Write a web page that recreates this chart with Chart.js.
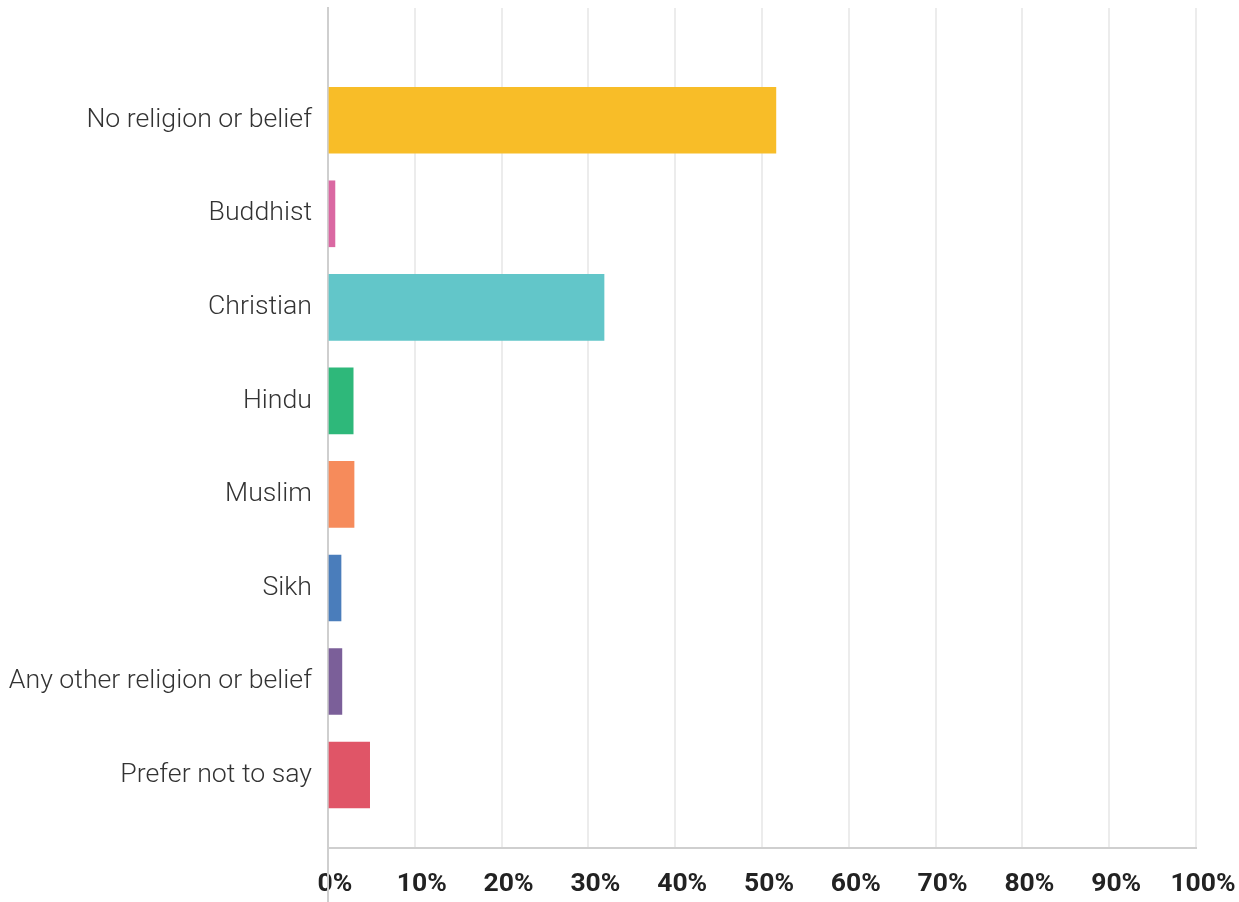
<!DOCTYPE html>
<html>
<head>
<meta charset="utf-8">
<script src="https://cdn.jsdelivr.net/npm/chart.js@4/dist/chart.umd.min.js"></script>
<style>
  html, body { margin: 0; padding: 0; background: #fff; }
  #wrap { width: 1239px; height: 902px; }
</style>
</head>
<body>
<div id="wrap"><canvas id="religionChart" width="1239" height="902"></canvas></div>
<script>
// Religion or belief breakdown (percent of respondents)
const categories = [
    'No religion or belief',
    'Buddhist',
    'Christian',
    'Hindu',
    'Muslim',
    'Sikh',
    'Any other religion or belief',
    'Prefer not to say'
];
const percentages = [51.6, 0.8, 31.8, 2.9, 3.0, 1.5, 1.6, 4.8];
const barColors = ['#f8bd28', '#da68a2', '#62c6c9', '#2eb87a', '#f68b5b', '#4a7dbb', '#7b5f99', '#e05567'];
const xTicks = [0, 10, 20, 30, 40, 50, 60, 70, 80, 90, 100];

const axisColor = '#cfcfcf';

// draws the left axis line down past the tick labels
const axisTail = {
    id: 'axisTail',
    afterDraw(chart) {
        const { ctx, chartArea } = chart;
        ctx.save();
        ctx.strokeStyle = axisColor;
        ctx.lineWidth = 2;
        ctx.beginPath();
        ctx.moveTo(chartArea.left, chartArea.bottom);
        ctx.lineTo(chartArea.left, chart.height);
        ctx.stroke();
        ctx.restore();
    }
};

const ctx = document.getElementById('religionChart').getContext('2d');
new Chart(ctx, {
    type: 'bar',
    data: {
        datasets: [{
            data: percentages.map((v, i) => ({ x: v, y: i })),
            backgroundColor: barColors,
            borderWidth: 0,
            barThickness: 66
        }]
    },
    options: {
        indexAxis: 'y',
        responsive: false,
        animation: false,
        layout: { padding: { top: 8, right: 43, left: 0, bottom: 0 } },
        plugins: {
            legend: { display: false },
            tooltip: { enabled: false }
        },
        scales: {
            x: {
                type: 'linear',
                min: 0,
                max: 100,
                afterBuildTicks: axis => { axis.ticks = xTicks.map(v => ({ value: v })); },
                afterFit: axis => {
                    axis.height = 54;
                    axis.paddingLeft = 0;
                    axis.paddingRight = 0;
                },
                grid: { color: '#ececec', lineWidth: 2, drawTicks: false },
                border: { color: axisColor, width: 2 },
                ticks: {
                    padding: 20,
                    labelOffset: 7,
                    maxRotation: 0,
                    color: '#222',
                    font: { family: 'Roboto', size: 26.5, weight: 'bold' },
                    callback: v => v + '%'
                }
            },
            y: {
                type: 'linear',
                reverse: true,
                offset: false,
                min: -1.2,
                max: 7.78,
                afterBuildTicks: axis => { axis.ticks = categories.map((_, i) => ({ value: i })); },
                afterFit: axis => {
                    axis.width = 328;
                    axis.paddingTop = 0;
                    axis.paddingBottom = 0;
                },
                grid: { display: false, drawTicks: false },
                border: { color: axisColor, width: 2 },
                ticks: {
                    padding: 16,
                    color: '#333',
                    font: { family: 'Roboto', size: 26.7, weight: '300' },
                    callback: v => categories[v] ?? ''
                }
            }
        }
    },
    plugins: [axisTail]
});
</script>
</body>
</html>
